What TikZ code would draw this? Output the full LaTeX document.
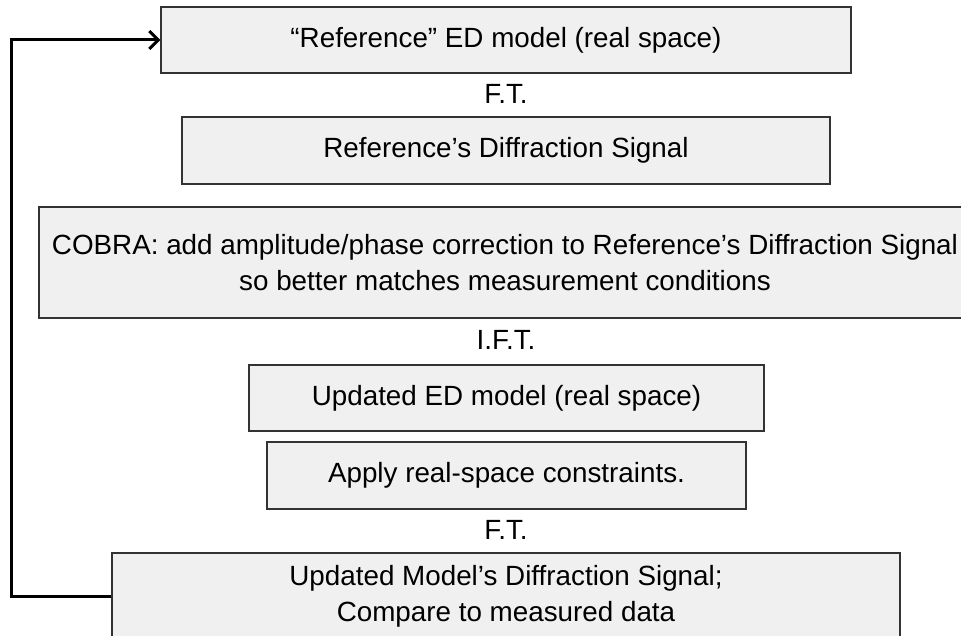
\documentclass[tikz,border=0pt]{standalone}
\usepackage{fontspec}
\setmainfont{Liberation Sans}
\usetikzlibrary{arrows.meta, positioning}

\begin{document}
\begin{tikzpicture}[x=1pt,y=-1pt,
  box/.style={draw=black!80, fill=black!6, line width=1.2pt, align=center,
    inner sep=0pt, font=\fontsize{27.8}{36}\selectfont},
  lbl/.style={font=\fontsize{27.8}{30}\selectfont, inner sep=0pt},
  loop/.style={line width=3pt, -{Straight Barb[length=9pt,width=18pt,line width=3pt]}}]

\useasboundingbox (0,0) rectangle (961,636);

% the chain of steps
\node[box, minimum width=690, minimum height=66] (ref) at (506,40) {“Reference” ED model (real space)};
\node[lbl] (ft1) at (506,94) {F.T.};
\node[box, minimum width=648, minimum height=67] (refsig) at (506,150.5) {Reference’s Diffraction Signal};
\node[box, minimum width=932, minimum height=111] (cobra) at (505,262.5) {COBRA: add amplitude/phase correction to Reference’s Diffraction Signal\\so better matches measurement conditions};
\node[lbl] (ift) at (506,340) {I.F.T.};
\node[box, minimum width=515, minimum height=66] (upd) at (506.5,398) {Updated ED model (real space)};
\node[box, minimum width=479, minimum height=67] (cons) at (506.5,475.5) {Apply real-space constraints.};
\node[lbl] (ft2) at (506,530) {F.T.};
\node[box, minimum width=788, minimum height=86] (updsig) at (506,596) {Updated Model’s Diffraction Signal;\\Compare to measured data};

% feedback loop
\draw[loop] (updsig.west) -- ++(-100,0) |- (ref.west);
\end{tikzpicture}
\end{document}
